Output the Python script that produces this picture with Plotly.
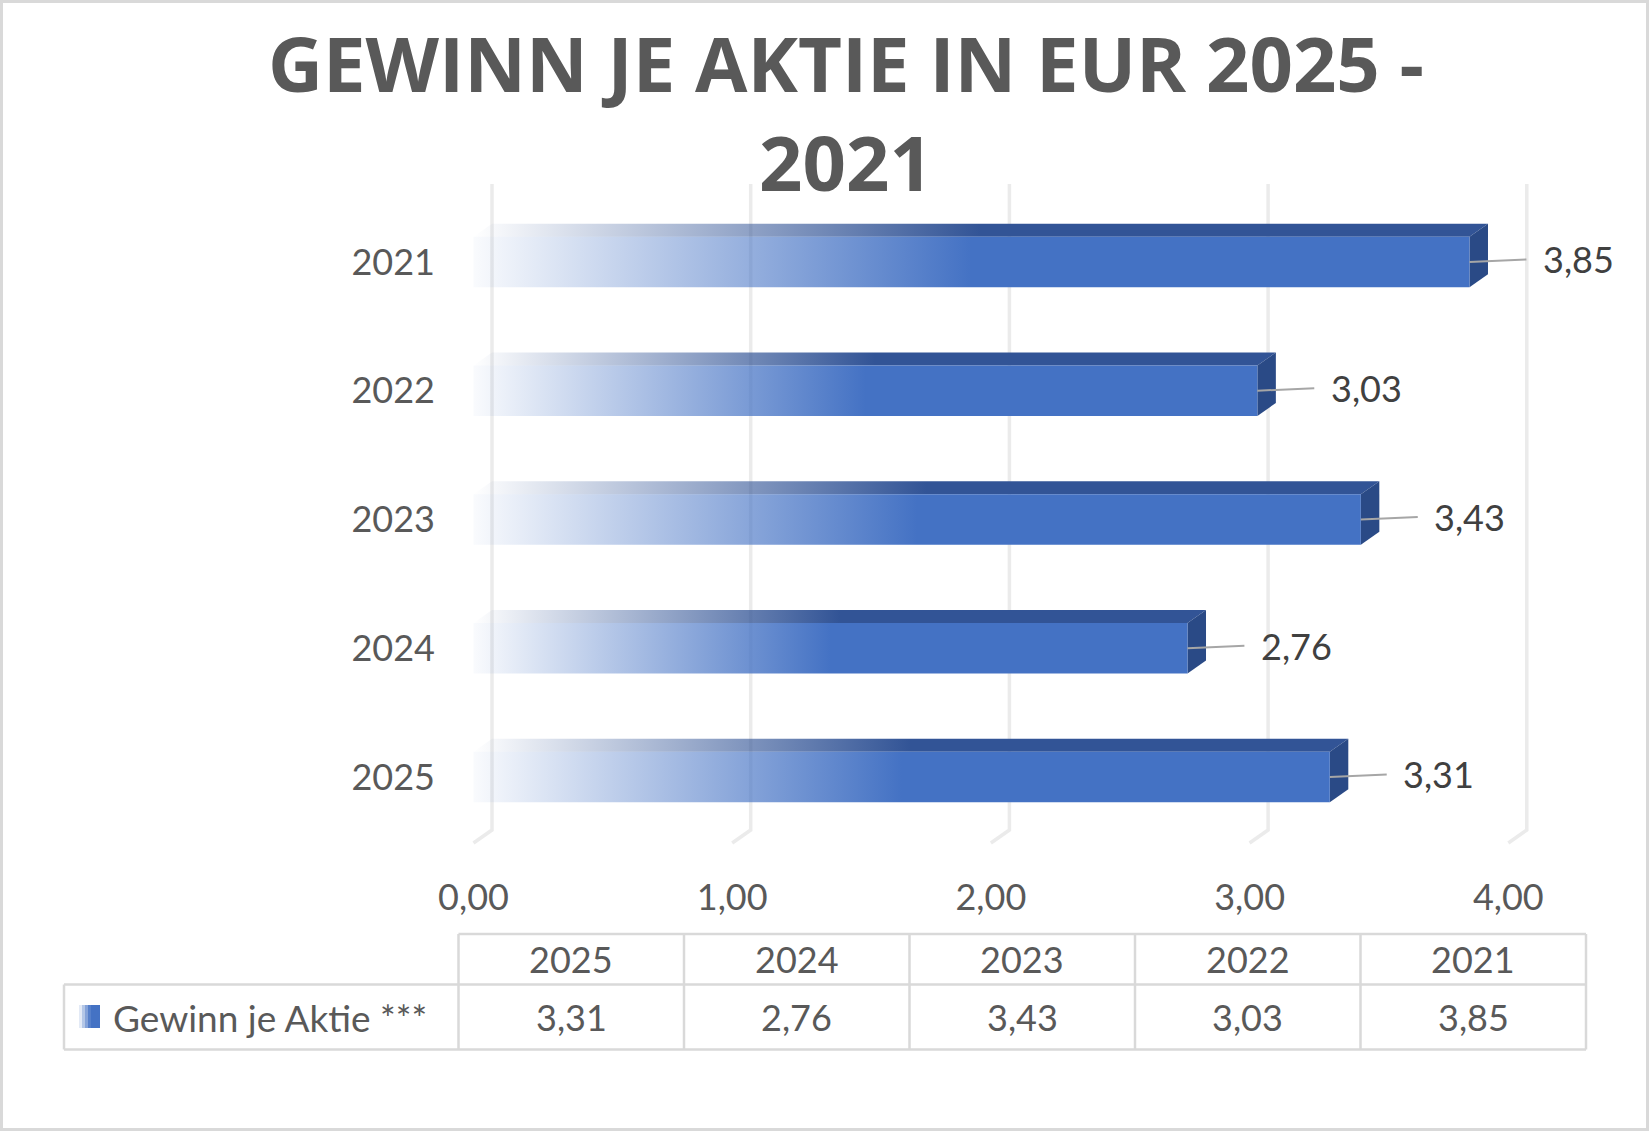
import numpy as np
import plotly.graph_objects as go

# ---------------- data ----------------
categories = ["2025", "2024", "2023", "2022", "2021"]
values = [3.31, 2.76, 3.43, 3.03, 3.85]
x_ticks = [0, 1, 2, 3, 4]
series_name = "Gewinn je Aktie ***"
title_lines = ["GEWINN JE AKTIE IN EUR 2025 -", "2021"]

# ---------------- layout geometry (pixels) ----------------
W, H = 1649, 1131
L, R, T, B = 440, 1640, 150, 873
X0_PX, X_UNIT = 473.5, 258.7      # front-face zero and px per unit
Y0_PX, Y_UNIT = 777.0, 128.75     # first category centre and px per category

xmin = (L - X0_PX) / X_UNIT
xmax = (R - X0_PX) / X_UNIT
ymin = (Y0_PX - B) / Y_UNIT
ymax = (Y0_PX - T) / Y_UNIT


def ydata(py):
    return (Y0_PX - py) / Y_UNIT


def xpaper(px):
    return (px - L) / (R - L)


def ypaper(py):
    return (B - py) / (B - T)


HALF = 25.25 / Y_UNIT
DX = 18.5 / X_UNIT
DY = 13.0 / Y_UNIT

FONT = "Lato"
FS = 36
GRAY = "#595959"
DARK = "#404040"
BORDER = "#D9D9D9"

fig = go.Figure()

# ---------------- 3D back-wall gridlines ----------------
g_top, g_back, g_front = ydata(184), ydata(830), ydata(843)
for t in x_ticks:
    fig.add_trace(go.Scatter(
        x=[t + DX, t + DX, t], y=[g_top, g_back, g_front],
        mode="lines", line=dict(color="#EBEBEB", width=3.5),
        hoverinfo="skip", showlegend=False))

# ---------------- bars ----------------
front_cs = [[0, "rgba(68,114,196,0.03)"], [0.5, "rgba(68,114,196,1)"], [1, "rgba(68,114,196,1)"]]
top_cs = [[0, "rgba(50,84,150,0)"], [0.5, "rgba(50,84,150,1)"], [1, "rgba(50,84,150,1)"]]

for i, (cat, v) in enumerate(zip(categories, values)):
    y0, y1 = i - HALF, i + HALF
    # top face
    fig.add_trace(go.Scatter(
        x=[0, v, v + DX, DX, 0], y=[y1, y1, y1 + DY, y1 + DY, y1],
        fill="toself", mode="lines", line=dict(width=0),
        fillgradient=dict(type="horizontal", colorscale=top_cs),
        hoverinfo="skip", showlegend=False))
    # side face
    fig.add_trace(go.Scatter(
        x=[v, v + DX, v + DX, v, v], y=[y0, y0 + DY, y1 + DY, y1, y0],
        fill="toself", mode="lines", line=dict(width=0),
        fillcolor="rgb(42,74,134)",
        hoverinfo="skip", showlegend=False))
    # front face
    fig.add_trace(go.Scatter(
        x=[0, v, v, 0, 0], y=[y0, y0, y1, y1, y0],
        fill="toself", mode="lines", line=dict(width=0),
        fillgradient=dict(type="horizontal", colorscale=front_cs),
        hoverinfo="skip", showlegend=False))
    # leader line
    fig.add_trace(go.Scatter(
        x=[v, v + 0.22], y=[i, i + 0.02], mode="lines",
        line=dict(color="#A6A6A6", width=2),
        hoverinfo="skip", showlegend=False))
    # value label
    fig.add_annotation(
        x=v + 0.275, y=i + 0.02, xref="x", yref="y",
        text=f"{v:.2f}".replace(".", ","), showarrow=False,
        xanchor="left", yanchor="middle",
        font=dict(family=FONT, size=FS, color=DARK))

# ---------------- data table ----------------
shapes = []
col_edges = np.linspace(458.5, 1586, len(categories) + 1)
tbl_top, tbl_mid, tbl_bot, tbl_left = 934, 984.5, 1049.5, 64


def hline(x0, x1, y):
    return dict(type="line", xref="paper", yref="paper",
                x0=xpaper(x0), x1=xpaper(x1), y0=ypaper(y), y1=ypaper(y),
                line=dict(color=BORDER, width=2.5))


def vline(x, y0, y1):
    return dict(type="line", xref="paper", yref="paper",
                x0=xpaper(x), x1=xpaper(x), y0=ypaper(y0), y1=ypaper(y1),
                line=dict(color=BORDER, width=2.5))


shapes.append(hline(col_edges[0], col_edges[-1], tbl_top))
shapes.append(hline(tbl_left, col_edges[-1], tbl_mid))
shapes.append(hline(tbl_left, col_edges[-1], tbl_bot))
shapes.append(vline(tbl_left, tbl_mid, tbl_bot))
for xe in col_edges:
    shapes.append(vline(xe, tbl_top, tbl_bot))

for k, (cat, v) in enumerate(zip(categories, values)):
    cx = (col_edges[k] + col_edges[k + 1]) / 2
    fig.add_annotation(x=xpaper(cx), y=ypaper(959), xref="paper", yref="paper",
                       text=cat, showarrow=False, xanchor="center", yanchor="middle",
                       font=dict(family=FONT, size=FS, color=GRAY))
    fig.add_annotation(x=xpaper(cx), y=ypaper(1017), xref="paper", yref="paper",
                       text=f"{v:.2f}".replace(".", ","), showarrow=False,
                       xanchor="center", yanchor="middle",
                       font=dict(family=FONT, size=FS, color=GRAY))

# legend key (gradient approximated by strips)
key_x0, key_x1, key_y0, key_y1 = 79, 100, 1005, 1028
n_strips = 7
edges = np.linspace(key_x0, key_x1, n_strips + 1)
for s in range(n_strips):
    a = min(1.0, 0.15 + s * 0.25)
    shapes.append(dict(type="rect", xref="paper", yref="paper",
                       x0=xpaper(edges[s]), x1=xpaper(edges[s + 1]),
                       y0=ypaper(key_y1), y1=ypaper(key_y0),
                       fillcolor=f"rgba(68,114,196,{a:.2f})", line=dict(width=0)))
fig.add_annotation(x=xpaper(111), y=ypaper(1017), xref="paper", yref="paper",
                   text=series_name, showarrow=False, xanchor="left", yanchor="middle",
                   font=dict(family=FONT, size=FS + 1, color=GRAY))

# outer chart border
shapes.append(dict(type="rect", xref="paper", yref="paper",
                   x0=xpaper(1.5), x1=xpaper(W - 1.5), y0=ypaper(H - 1.5), y1=ypaper(1.5),
                   line=dict(color=BORDER, width=3), fillcolor="rgba(0,0,0,0)"))

fig.update_layout(
    width=W, height=H, autosize=False,
    margin=dict(l=L, r=W - R, t=T, b=H - B),
    paper_bgcolor="white", plot_bgcolor="white",
    separators=",.",
    showlegend=False,
    shapes=shapes,
    title=dict(text="<br>".join(title_lines), x=846 / W, xanchor="center",
               xref="container", yref="container", y=1 - 92 / H, yanchor="middle",
               font=dict(family="Open Sans", size=76, color=GRAY, weight="bold")),
    xaxis=dict(range=[xmin, xmax], tickvals=x_ticks, tickformat=".2f",
               showgrid=False, zeroline=False, showline=False, ticks="",
               tickfont=dict(family=FONT, size=FS, color=GRAY), fixedrange=True),
    yaxis=dict(range=[ymin, ymax], tickvals=list(range(len(categories))),
               ticktext=categories, showgrid=False, zeroline=False, showline=False,
               ticks="", tickfont=dict(family=FONT, size=FS, color=GRAY),
               ticklabelstandoff=4, fixedrange=True),
)

fig.write_html("out.html")
